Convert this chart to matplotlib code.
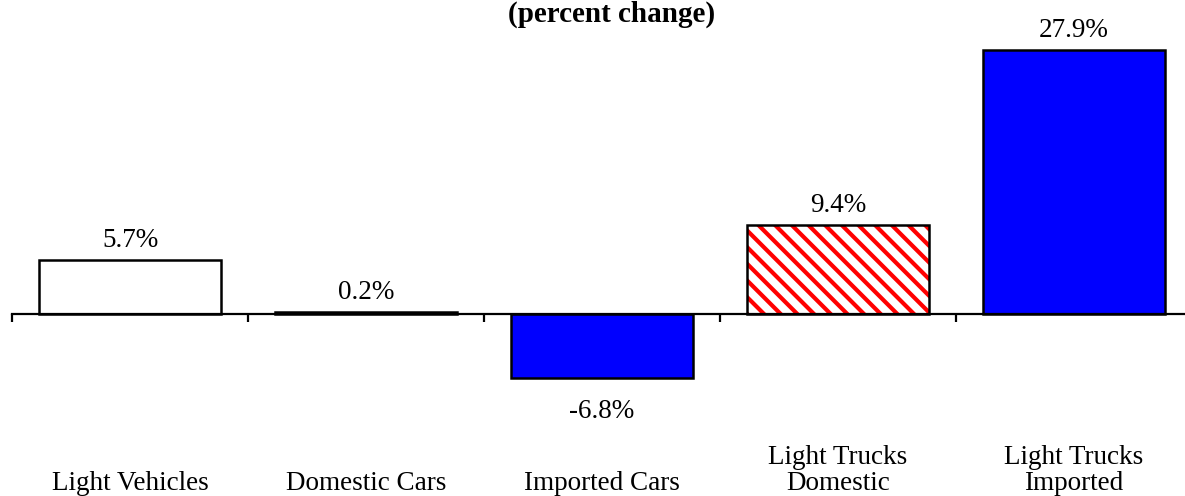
import matplotlib
matplotlib.use('Agg')
import matplotlib.pyplot as plt
from matplotlib.transforms import blended_transform_factory

plt.rcParams['font.family'] = ['Liberation Serif', 'DejaVu Serif']
plt.rcParams['hatch.linewidth'] = 3

categories = ['Light Vehicles', 'Domestic Cars', 'Imported Cars',
              'Light Trucks\nDomestic', 'Light Trucks\nImported']
values = [5.7, 0.2, -6.8, 9.4, 27.9]
labels = ['5.7%', '0.2%', '-6.8%', '9.4%', '27.9%']
fills = ['white', 'white', '#0000ff', 'hatch', '#0000ff']

W, H = 1185, 496
fig = plt.figure(figsize=(W / 100, H / 100), dpi=100)
ax = fig.add_axes([12 / W, (H - 400) / H, 1180 / W, 360 / H])

# bars
for i, v in enumerate(values):
    if fills[i] == 'hatch':
        ax.bar(i, v, width=0.77, color='white', edgecolor='red', hatch='\\\\', linewidth=0)
        ax.bar(i, v, width=0.77, fill=False, edgecolor='black', linewidth=1.8)
    else:
        ax.bar(i, v, width=0.77, color=fills[i], edgecolor='black', linewidth=1.8)

# value labels
for i, v in enumerate(values):
    if v >= 0:
        ax.annotate(labels[i], (i, v), xytext=(0, 13), textcoords='offset pixels',
                    ha='center', va='baseline', fontsize=19.5)
    else:
        ax.annotate(labels[i], (i, v), xytext=(0, -21), textcoords='offset pixels',
                    ha='center', va='top', fontsize=19.5)

ax.set_xlim(-0.5, 4.5)
ax.set_ylim(-9.09, 28.96)
for s in ['top', 'right', 'left']:
    ax.spines[s].set_visible(False)
ax.spines['bottom'].set_position(('data', 0))
ax.spines['bottom'].set_linewidth(1.6)
ax.set_yticks([])
ax.set_xticks([i - 0.5 for i in range(len(categories) + 1)])
ax.set_xticklabels([])
ax.tick_params(axis='x', direction='out', length=6, width=1.6)

# category names along the bottom
trans = blended_transform_factory(ax.transData, fig.transFigure)
for i, c in enumerate(categories):
    ax.text(i, 0 / H, c, transform=trans, ha='center', va='bottom', fontsize=19.5,
            linespacing=1.05)

fig.text(612 / W, 1 - 22 / H, '(percent change)', ha='center', va='baseline',
         fontsize=21, fontweight='bold')

fig.savefig('out.png', dpi=100)
